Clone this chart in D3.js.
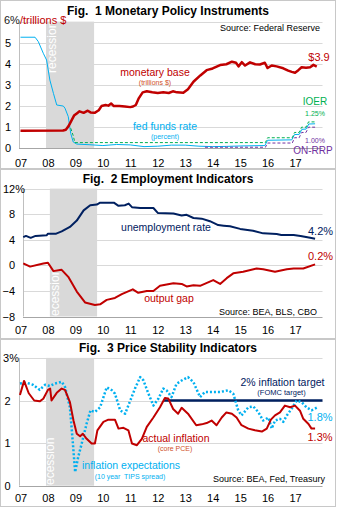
<!DOCTYPE html>
<html>
<head>
<meta charset="utf-8">
<script src="https://cdn.jsdelivr.net/npm/d3@7"></script>
<style>
  body { margin: 0; background: #fff; }
  text { font-family: "Liberation Sans", Arial, sans-serif; white-space: pre; }
</style>
</head>
<body>
<script>
// ---- data (decimal years) ----
const years = d3.range(2007, 2018);
const recessionMonthly = [2007.93, 2009.68];
const recessionQuarterly = [2008.07, 2009.79];

const monetaryBase = [
  [2007.0, 0.83], [2008.55, 0.84], [2008.65, 0.88], [2008.75, 1.05], [2008.85, 1.3], [2008.95, 1.55],
  [2009.05, 1.65], [2009.15, 1.75], [2009.3, 1.68], [2009.45, 1.78], [2009.55, 1.7], [2009.7, 1.68],
  [2009.85, 1.8], [2009.95, 2.0], [2010.1, 2.05], [2010.2, 2.02], [2010.3, 2.12], [2010.4, 2.0],
  [2010.6, 2.0], [2010.8, 1.98], [2011.0, 1.95], [2011.1, 1.98], [2011.2, 2.05], [2011.3, 2.35],
  [2011.45, 2.65], [2011.6, 2.7], [2011.8, 2.65], [2012.0, 2.62], [2012.2, 2.65], [2012.4, 2.62],
  [2012.55, 2.7], [2012.7, 2.65], [2012.93, 2.63], [2013.1, 2.8], [2013.3, 3.15], [2013.55, 3.45],
  [2013.78, 3.7], [2014.0, 3.78], [2014.27, 3.94], [2014.5, 3.98], [2014.7, 4.1], [2014.85, 4.05],
  [2014.94, 3.88], [2015.06, 4.08], [2015.18, 3.92], [2015.36, 4.07], [2015.55, 3.98], [2015.72, 3.97],
  [2015.9, 4.05], [2016.0, 3.8], [2016.15, 3.92], [2016.33, 3.88], [2016.57, 3.79], [2016.75, 3.68],
  [2016.88, 3.62], [2017.0, 3.58], [2017.12, 3.7], [2017.24, 3.84], [2017.4, 3.82], [2017.55, 3.84],
  [2017.67, 3.95], [2017.79, 3.87]
];
const fedFunds = [
  [2007.0, 5.26], [2007.53, 5.26], [2007.65, 5.05], [2007.83, 4.5], [2007.95, 4.18], [2008.07, 3.23],
  [2008.2, 2.6], [2008.32, 2.05], [2008.56, 2.0], [2008.62, 1.9], [2008.74, 1.5], [2008.83, 0.7],
  [2008.92, 0.3], [2009.05, 0.2], [2009.5, 0.17], [2010.0, 0.13], [2010.5, 0.18], [2011.0, 0.16],
  [2011.5, 0.08], [2012.0, 0.1], [2012.5, 0.15], [2013.0, 0.15], [2013.5, 0.1], [2014.0, 0.08],
  [2014.5, 0.09], [2015.0, 0.11], [2015.9, 0.13], [2016.0, 0.38], [2016.88, 0.4], [2016.98, 0.65],
  [2017.15, 0.66], [2017.25, 0.9], [2017.4, 0.91], [2017.5, 1.15], [2017.73, 1.16]
];
const ioer = [
  [2008.83, 0.95], [2008.92, 0.6], [2008.98, 0.27], [2015.92, 0.27], [2016.0, 0.5], [2016.9, 0.5],
  [2016.98, 0.75], [2017.15, 0.75], [2017.24, 1.0], [2017.4, 1.0], [2017.49, 1.25], [2017.73, 1.25]
];
const onRrp = [
  [2013.72, 0.05], [2015.92, 0.05], [2016.0, 0.25], [2016.9, 0.25], [2016.98, 0.5], [2017.15, 0.5],
  [2017.24, 0.75], [2017.4, 0.75], [2017.49, 1.0], [2017.73, 1.0]
];

const unemployment = [
  [2007.1, 4.4], [2007.2, 4.6], [2007.37, 4.3], [2007.55, 4.6], [2007.95, 4.7], [2008.0, 4.95],
  [2008.3, 4.95], [2008.5, 5.3], [2008.8, 6.0], [2009.05, 7.0], [2009.3, 8.6], [2009.54, 9.4],
  [2009.78, 9.5], [2009.9, 9.8], [2010.4, 9.8], [2010.57, 9.3], [2010.8, 9.4], [2010.94, 9.65],
  [2011.06, 9.1], [2011.36, 8.96], [2011.84, 8.96], [2012.0, 8.2], [2012.57, 8.1], [2012.87, 7.8],
  [2013.05, 7.9], [2013.3, 7.4], [2013.6, 7.3], [2013.9, 6.9], [2014.2, 6.3], [2014.4, 6.2],
  [2014.63, 6.1], [2015.0, 5.7], [2015.47, 5.4], [2015.84, 5.0], [2016.33, 4.9], [2016.5, 4.75],
  [2016.95, 4.75], [2017.2, 4.6], [2017.55, 4.3], [2017.73, 4.15]
];
const outputGap = [
  [2007.1, 0.3], [2007.35, -0.2], [2007.83, 0.3], [2008.0, 0.4], [2008.2, -0.9], [2008.5, -0.7],
  [2008.74, -1.8], [2009.05, -4.1], [2009.35, -5.8], [2009.71, -6.2], [2009.9, -6.1], [2010.14, -5.4],
  [2010.44, -5.1], [2010.69, -4.5], [2011.09, -3.75], [2011.29, -4.3], [2011.6, -4.0], [2011.84, -4.0],
  [2012.08, -3.2], [2012.57, -2.8], [2012.87, -2.9], [2013.05, -3.3], [2013.3, -3.1], [2013.54, -3.2],
  [2014.02, -2.3], [2014.27, -2.9], [2014.51, -2.0], [2014.75, -1.25], [2015.11, -1.0], [2015.6, -0.5],
  [2015.84, -0.6], [2016.27, -1.0], [2016.7, -0.6], [2016.95, -0.5], [2017.3, -0.5], [2017.73, 0.15]
];

const actualInflation = [
  [2006.98, 2.13], [2007.13, 2.46], [2007.3, 2.17], [2007.5, 2.0], [2007.7, 1.98], [2007.83, 2.04],
  [2008.0, 2.25], [2008.08, 2.28], [2008.13, 2.0], [2008.32, 2.18], [2008.5, 2.28], [2008.62, 2.25],
  [2008.8, 1.96], [2008.93, 1.53], [2009.05, 1.22], [2009.17, 1.16], [2009.27, 1.22], [2009.41, 1.1],
  [2009.59, 0.99], [2009.71, 0.99], [2009.8, 1.3], [2010.02, 1.5], [2010.2, 1.55], [2010.44, 1.55],
  [2010.57, 1.34], [2010.75, 1.36], [2010.93, 1.3], [2011.06, 0.99], [2011.24, 0.95], [2011.42, 1.1],
  [2011.6, 1.38], [2011.84, 1.6], [2012.08, 1.84], [2012.26, 2.06], [2012.38, 2.05], [2012.56, 1.8],
  [2012.74, 1.69], [2012.87, 1.83], [2013.1, 1.69], [2013.4, 1.42], [2013.6, 1.44], [2013.78, 1.47],
  [2013.96, 1.53], [2014.14, 1.42], [2014.33, 1.6], [2014.5, 1.72], [2014.7, 1.69], [2014.87, 1.6],
  [2015.05, 1.42], [2015.3, 1.34], [2015.54, 1.3], [2015.79, 1.27], [2015.97, 1.34], [2016.12, 1.55],
  [2016.27, 1.65], [2016.45, 1.72], [2016.63, 1.88], [2016.82, 1.84], [2017.0, 1.88], [2017.18, 1.76],
  [2017.3, 1.57], [2017.49, 1.45], [2017.6, 1.34], [2017.73, 1.34]
];
const inflationExpectations = [
  [2006.98, 2.4], [2007.2, 2.42], [2007.45, 2.37], [2007.7, 2.25], [2007.9, 2.37], [2008.07, 2.34],
  [2008.26, 2.4], [2008.5, 2.44], [2008.62, 2.32], [2008.8, 1.84], [2008.9, 1.06], [2008.99, 0.32],
  [2009.1, 0.67], [2009.23, 0.99], [2009.41, 1.46], [2009.55, 1.77], [2009.71, 1.73], [2009.9, 1.84],
  [2010.14, 2.31], [2010.33, 2.24], [2010.44, 2.16], [2010.63, 1.77], [2010.81, 1.69], [2011.0, 2.0],
  [2011.17, 2.28], [2011.36, 2.55], [2011.48, 2.47], [2011.66, 2.16], [2011.84, 1.88], [2012.02, 2.04],
  [2012.2, 2.28], [2012.32, 2.24], [2012.5, 2.08], [2012.68, 2.39], [2012.87, 2.47], [2013.1, 2.55],
  [2013.3, 2.43], [2013.54, 2.08], [2013.72, 2.2], [2013.96, 2.2], [2014.27, 2.2], [2014.57, 2.24],
  [2014.75, 2.16], [2014.93, 1.77], [2015.05, 1.65], [2015.3, 1.84], [2015.48, 1.86], [2015.66, 1.73],
  [2015.84, 1.53], [2016.03, 1.6], [2016.15, 1.34], [2016.27, 1.53], [2016.45, 1.57], [2016.57, 1.5],
  [2016.7, 1.65], [2016.88, 1.81], [2017.06, 2.0], [2017.24, 1.96], [2017.42, 1.84], [2017.6, 1.77],
  [2017.79, 1.83]
];
const inflationTarget = [[2012.2, 2], [2018, 2]];

// ---- setup ----
const W = 337, H = 507;
const RED = "#c00000", NAVY = "#002060", SKY = "#00b0f0", GREEN = "#00b050", PURPLE = "#7030a0";

const svg = d3.select("body").append("svg")
    .attr("width", W).attr("height", H);

const x = d3.scaleLinear().domain([2007, 2018]).range([20.5, 322.5]);

// panel frames
[[0.5, 168.5], [169.5, 338.5], [339.5, 506.5]].forEach(([t, b]) => {
  svg.append("rect").attr("x", 0.5).attr("y", t).attr("width", 335).attr("height", b - t)
     .attr("fill", "none").attr("stroke", "#c8c8c8");
});

function panel(opt) {
  const g = svg.append("g");
  const y = opt.y;
  const [x0, x1] = [opt.left, 322.5];
  const [yb, yt] = y.range();

  g.append("clipPath").attr("id", opt.id)
    .append("rect").attr("x", x0).attr("y", yt - 4).attr("width", x1 - x0).attr("height", yb - yt + 4);

  // title
  g.append("text").attr("x", 168).attr("y", opt.titleY).attr("text-anchor", "middle")
    .style("font-size", "12px").style("font-weight", "bold").text(opt.title);

  // recession band
  g.append("rect")
    .attr("x", x(opt.recession[0])).attr("y", yt)
    .attr("width", x(opt.recession[1]) - x(opt.recession[0])).attr("height", yb - yt)
    .attr("fill", "#d9d9d9");

  // gridlines
  g.append("g").selectAll("line").data(opt.grid).join("line")
    .attr("x1", x0).attr("x2", x1)
    .attr("y1", d => Math.round(y(d)) + 0.5).attr("y2", d => Math.round(y(d)) + 0.5)
    .attr("stroke", "#d9d9d9");

  // axes lines
  g.append("line").attr("x1", x0 + 0.5).attr("x2", x0 + 0.5).attr("y1", yt).attr("y2", yb)
    .attr("stroke", "#bfbfbf");
  g.append("line").attr("x1", x0).attr("x2", x1)
    .attr("y1", Math.round(yb) + 0.5).attr("y2", Math.round(yb) + 0.5).attr("stroke", "#a6a6a6");

  // recession label
  g.append("g").attr("clip-path", `url(#${opt.id})`)
    .append("text")
    .attr("transform", `translate(${opt.recTextX},${opt.recTextY}) rotate(-90)`)
    .attr("fill", "#fff").style("font-size", "12px").text("recession");

  // x axis
  const xa = g.append("g").attr("transform", `translate(0,${opt.xLabelY})`)
    .call(d3.axisBottom(x).tickValues(years).tickSize(0).tickPadding(0)
      .tickFormat(d => String(d).slice(2)));
  xa.select(".domain").remove();
  xa.selectAll("text").attr("dy", 0).style("font-size", "11px")
    .style("font-family", '"Liberation Sans", Arial, sans-serif').attr("fill", "#000");

  // y axis
  const ya = g.append("g").attr("transform", `translate(${opt.yLabelX},0)`)
    .call(d3.axisLeft(y).tickValues(opt.ticks).tickSize(0).tickPadding(0).tickFormat(opt.tickFormat));
  ya.select(".domain").remove();
  ya.selectAll("text").style("font-size", "11px")
    .style("font-family", '"Liberation Sans", Arial, sans-serif').attr("fill", "#000");

  // top label carries a % sign that hangs past the column
  if (opt.pctTop) {
    const top = d3.max(opt.ticks);
    ya.selectAll(".tick").filter(d => d === top).select("text")
      .attr("text-anchor", "start").attr("x", 3 - opt.yLabelX)
      .append("tspan").text("%");
  }
  return g;
}

function drawLine(g, y, data, stroke, width, dash) {
  const line = d3.line().x(d => x(d[0])).y(d => y(d[1]));
  g.append("path").datum(data).attr("d", line)
    .attr("fill", "none").attr("stroke", stroke).attr("stroke-width", width)
    .attr("stroke-linejoin", "round")
    .attr("stroke-dasharray", dash || null);
}

function label(g, px, py, txt, color, size, anchor) {
  g.append("text").attr("x", px).attr("y", py).attr("fill", color)
    .attr("text-anchor", anchor || "middle").style("font-size", size + "px").text(txt);
}

// ---- Fig 1 ----
const y1 = d3.scaleLinear().domain([0, 6]).range([148.3, 21.6]);
const g1 = panel({
  id: "c1", y: y1, left: 19, title: "Fig.  1 Monetary Policy Instruments", titleY: 15,
  recession: recessionMonthly, grid: [1, 2, 3, 4, 5, 6], recTextX: 56, recTextY: 73,
  xLabelY: 166.5, yLabelX: 11, ticks: [0, 1, 2, 3, 4, 5], tickFormat: d3.format("d")
});
g1.append("text").attr("x", 4).attr("y", 24).style("font-size", "11px")
  .call(t => { t.append("tspan").attr("fill", "#1a1a1a").text("6%");
               t.append("tspan").attr("fill", RED).text("/trillions $"); });
drawLine(g1, y1, fedFunds, SKY, 1);
drawLine(g1, y1, ioer, GREEN, 1, "3,2");
drawLine(g1, y1, onRrp, PURPLE, 1, "3,2");
drawLine(g1, y1, monetaryBase, RED, 2.5);
label(g1, 320, 30.5, "Source: Federal Reserve", "#000", 9, "end");
label(g1, 155, 75.5, "monetary base", RED, 10.5);
label(g1, 155, 85, "(trillions $)", "#d0502a", 7);
label(g1, 319, 61, "$3.9", RED, 11);
label(g1, 165, 129.5, "fed funds rate", SKY, 10.5);
label(g1, 165, 139, "(percent)", SKY, 7);
label(g1, 315, 105, "IOER", GREEN, 10);
label(g1, 315, 116, "1.25%", GREEN, 7);
label(g1, 315, 142.5, "1.00%", PURPLE, 7);
label(g1, 313, 154, "ON-RRP", PURPLE, 10);

// ---- Fig 2 ----
const y2 = d3.scaleLinear().domain([-8, 12]).range([316.5, 188.6]);
const g2 = panel({
  id: "c2", y: y2, left: 23, title: "Fig.  2 Employment Indicators", titleY: 183,
  recession: recessionQuarterly, grid: [-4, 0, 4, 8, 12], recTextX: 59, recTextY: 320,
  xLabelY: 333.5, yLabelX: 15, ticks: [-8, -4, 0, 4, 8, 12], tickFormat: d3.format("d"), pctTop: true
});
drawLine(g2, y2, outputGap, RED, 2);
drawLine(g2, y2, unemployment, NAVY, 2);
label(g2, 166, 230.5, "unemployment rate", NAVY, 10.5);
label(g2, 320.5, 235, "4.2%", NAVY, 11);
label(g2, 320.5, 259.5, "0.2%", RED, 11);
label(g2, 169, 301.5, "output gap", RED, 10.5);
label(g2, 317, 315, "Source: BEA, BLS, CBO", "#000", 9, "end");

// ---- Fig 3 ----
const y3 = d3.scaleLinear().domain([0, 3]).range([485.7, 357.9]);
const g3 = panel({
  id: "c3", y: y3, left: 19, title: "Fig.  3 Price Stability Indicators", titleY: 351.5,
  recession: recessionMonthly, grid: [1, 2, 3], recTextX: 54, recTextY: 489,
  xLabelY: 501.5, yLabelX: 10.5, ticks: [0, 1, 2, 3], tickFormat: d3.format("d"), pctTop: true
});
drawLine(g3, y3, inflationTarget, NAVY, 2.5);
drawLine(g3, y3, inflationExpectations, SKY, 2.5, "2,2");
drawLine(g3, y3, actualInflation, RED, 2);
label(g3, 282.5, 385.5, "2% inflation target", NAVY, 10.5);
label(g3, 281.5, 395, "(FOMC target)", NAVY, 7.5);
label(g3, 320, 421, "1.8%", SKY, 11);
label(g3, 320, 441, "1.3%", RED, 11);
label(g3, 176, 442, "actual inflation", RED, 10.5);
label(g3, 175, 451, "(core PCE)", "#d0502a", 7);
label(g3, 131, 469, "inflation expectations", SKY, 10.5);
label(g3, 130, 478.5, "(10 year  TIPS spread)", SKY, 7);
label(g3, 325, 482, "Source: BEA, Fed, Treasury", "#000", 9, "end");
</script>
</body>
</html>
